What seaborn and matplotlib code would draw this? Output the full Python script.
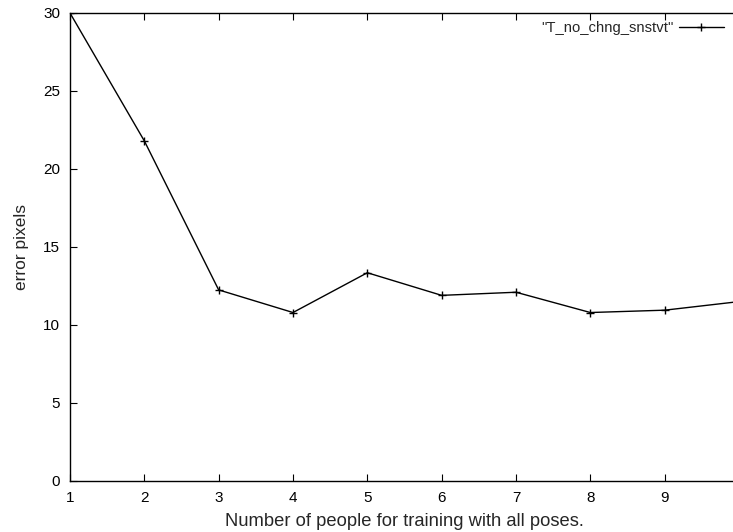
import matplotlib
matplotlib.use("Agg")
import matplotlib.pyplot as plt
import seaborn as sns
import pandas as pd

people = [1, 2, 3, 4, 5, 6, 7, 8, 9, 10]
error_px = [30.0, 21.8, 12.25, 10.8, 13.35, 11.9, 12.1, 10.8, 10.95, 11.5]
series_name = '"T_no_chng_snstvt"'
x_ticks = [1, 2, 3, 4, 5, 6, 7, 8, 9]
y_ticks = [0, 5, 10, 15, 20, 25, 30]

sns.set_style("ticks")
plt.rcParams['font.family'] = ['Liberation Sans', 'DejaVu Sans']

df = pd.DataFrame({"people": people, "error": error_px, "series": series_name})

fig = plt.figure(figsize=(7.33, 5.32), dpi=100)
ax = fig.add_axes([70/733, 51/532, 669/733, 468/532])
sns.lineplot(data=df, x="people", y="error", color="black", marker="+",
             markersize=6, markeredgewidth=1.0, markeredgecolor="black",
             linewidth=1.0, ax=ax, label=series_name, legend=False)
ax.set_xlim(1, 10)
ax.set_ylim(0, 30)
ax.set_xticks(x_ticks)
ax.set_yticks(y_ticks)
ax.tick_params(direction="in", top=True, right=False, labelsize=11, length=5, width=0.8, colors="black")
ax.tick_params(axis="x", pad=7)
ax.tick_params(axis="y", pad=7)
for s in ax.spines.values():
    s.set_linewidth(1.0)
    s.set_color("black")
ax.set_xlabel("Number of people for training with all poses.", fontsize=13.2, labelpad=6)
ax.set_ylabel("error pixels", fontsize=12.5, labelpad=10)

ax.legend(loc="upper right", bbox_to_anchor=(728/733, 1 - 17/532), bbox_transform=fig.transFigure,
          frameon=False, markerfirst=False, fontsize=10.7, handlelength=3.0, handletextpad=0.35,
          borderaxespad=0, borderpad=0.3)

fig.savefig("out.png", dpi=100)
